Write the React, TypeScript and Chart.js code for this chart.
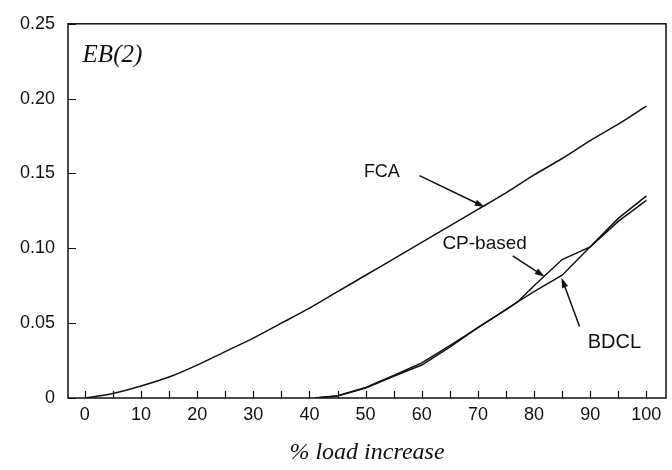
import { useEffect, useRef } from "react";
import { Chart, registerables } from "chart.js";

Chart.register(...registerables);

// ---- data ----
const fcaLoad = [0, 5, 10, 15, 20, 25, 30, 35, 40, 45, 50, 55, 60, 65, 70, 75, 80, 85, 90, 95, 100];
const fcaValues = [0, 0.003, 0.008, 0.014, 0.022, 0.031, 0.04, 0.05, 0.06, 0.071, 0.082, 0.093, 0.104, 0.115, 0.126, 0.137, 0.149, 0.16, 0.172, 0.183, 0.195];

const lowerLoad = [41, 45, 50, 55, 60, 65, 70, 75, 77, 80, 85, 90, 95, 100];
const cpBasedValues = [0, 0.0015, 0.007, 0.015, 0.0235, 0.035, 0.047, 0.059, 0.064, 0.075, 0.0925, 0.101, 0.12, 0.135];
const bdclValues = [0, 0.0013, 0.0066, 0.0145, 0.022, 0.034, 0.047, 0.059, 0.064, 0.071, 0.082, 0.101, 0.118, 0.132];

const xTickValues = [0, 10, 20, 30, 40, 50, 60, 70, 80, 90, 100];
const xMinorTickValues = [0, 5, 10, 15, 20, 25, 30, 35, 40, 45, 50, 55, 60, 65, 70, 75, 80, 85, 90, 95, 100];
const yTickValues = [0, 0.05, 0.1, 0.15, 0.2, 0.25];

const xTitle = "% load increase";
const panelLabel = "EB(2)";
const curveLabels = ["FCA", "CP-based", "BDCL"];

// annotation anchors in data coordinates: label centre, arrow start, arrow tip
const labelPos = [
  [52.9, 0.1508],
  [71.2, 0.1033],
  [94.3, 0.037],
];
const arrowFrom = [
  [59.6, 0.1486],
  [76.2, 0.095],
  [88.1, 0.0478],
];
const arrowTo = [
  [71.2, 0.1276],
  [81.9, 0.081],
  [84.9, 0.0804],
];
const labelSizes = [18, 19, 20];

const INK = "#111";

const overlayPlugin = {
  id: "overlay",
  afterDatasetsDraw(chart: any) {
    const { ctx, chartArea, scales } = chart;
    const xs = scales.x;
    const ys = scales.y;
    ctx.save();
    ctx.strokeStyle = INK;
    ctx.fillStyle = INK;
    ctx.lineWidth = 1.5;
    // frame
    ctx.strokeRect(chartArea.left, chartArea.top, chartArea.right - chartArea.left, chartArea.bottom - chartArea.top);
    // ticks (inward)
    ctx.lineWidth = 1.2;
    ctx.beginPath();
    xMinorTickValues.forEach((v) => {
      const px = Math.round(xs.getPixelForValue(v)) + 0.5;
      ctx.moveTo(px, chartArea.bottom);
      ctx.lineTo(px, chartArea.bottom - 7);
    });
    yTickValues.forEach((v) => {
      const py = Math.round(ys.getPixelForValue(v)) + 0.5;
      ctx.moveTo(chartArea.left, py);
      ctx.lineTo(chartArea.left + 8, py);
    });
    ctx.stroke();

    // panel label
    ctx.font = "italic 25px 'Liberation Serif', serif";
    ctx.textAlign = "left";
    ctx.textBaseline = "middle";
    ctx.fillText(panelLabel, xs.getPixelForValue(-0.4), ys.getPixelForValue(0.229));

    // annotations
    curveLabels.forEach((t, i) => {
      ctx.font = `${labelSizes[i]}px 'Liberation Sans', Arial, sans-serif`;
      ctx.textAlign = "center";
      ctx.textBaseline = "middle";
      ctx.fillText(t, xs.getPixelForValue(labelPos[i][0]), ys.getPixelForValue(labelPos[i][1]));
      const x0 = xs.getPixelForValue(arrowFrom[i][0]);
      const y0 = ys.getPixelForValue(arrowFrom[i][1]);
      const x1 = xs.getPixelForValue(arrowTo[i][0]);
      const y1 = ys.getPixelForValue(arrowTo[i][1]);
      const ang = Math.atan2(y1 - y0, x1 - x0);
      const hl = 10;
      const hw = 3.2;
      ctx.lineWidth = 1.5;
      ctx.beginPath();
      ctx.moveTo(x0, y0);
      ctx.lineTo(x1 - Math.cos(ang) * hl * 0.8, y1 - Math.sin(ang) * hl * 0.8);
      ctx.stroke();
      ctx.beginPath();
      ctx.moveTo(x1, y1);
      ctx.lineTo(x1 - Math.cos(ang) * hl - Math.sin(ang) * hw, y1 - Math.sin(ang) * hl + Math.cos(ang) * hw);
      ctx.lineTo(x1 - Math.cos(ang) * hl + Math.sin(ang) * hw, y1 - Math.sin(ang) * hl - Math.cos(ang) * hw);
      ctx.closePath();
      ctx.fill();
    });
    ctx.restore();
  },
};

export default function App() {
  const canvasRef = useRef<HTMLCanvasElement | null>(null);

  useEffect(() => {
    const canvas = canvasRef.current;
    if (!canvas) return;
    const lineStyle = {
      borderColor: INK,
      borderWidth: 1.5,
      pointRadius: 0,
      fill: false,
    };
    const chart = new Chart(canvas, {
      type: "line",
      data: {
        datasets: [
          {
            label: curveLabels[0],
            data: fcaLoad.map((x, i) => ({ x, y: fcaValues[i] })),
            tension: 0.3,
            ...lineStyle,
          },
          {
            label: curveLabels[1],
            data: lowerLoad.map((x, i) => ({ x, y: cpBasedValues[i] })),
            tension: 0,
            ...lineStyle,
          },
          {
            label: curveLabels[2],
            data: lowerLoad.map((x, i) => ({ x, y: bdclValues[i] })),
            tension: 0,
            ...lineStyle,
          },
        ],
      },
      options: {
        animation: false,
        responsive: true,
        maintainAspectRatio: false,
        layout: { padding: { top: 6, right: 6, left: 0, bottom: 0 } },
        plugins: {
          legend: { display: false },
          tooltip: { enabled: false },
        },
        scales: {
          x: {
            type: "linear",
            min: -3,
            max: 103.5,
            grid: { display: false, drawTicks: false },
            border: { display: false },
            afterBuildTicks: (s: any) => {
              s.ticks = xTickValues.map((v) => ({ value: v }));
            },
            afterFit: (s: any) => {
              s.height = 72;
            },
            ticks: {
              color: INK,
              padding: 6,
              maxRotation: 0,
              autoSkip: false,
              font: { family: "'Liberation Sans', Arial, sans-serif", size: 18 },
              callback: (v: any) => String(v),
            },
            title: {
              display: true,
              text: xTitle,
              color: INK,
              padding: { top: 0, bottom: 3 },
              font: { family: "'Liberation Serif', serif", size: 24, style: "italic" },
            },
          },
          y: {
            type: "linear",
            min: 0,
            max: 0.25,
            grid: { display: false, drawTicks: false },
            border: { display: false },
            afterBuildTicks: (s: any) => {
              s.ticks = yTickValues.map((v) => ({ value: v }));
            },
            afterFit: (s: any) => {
              s.width = 68;
            },
            ticks: {
              color: INK,
              padding: 13,
              autoSkip: false,
              font: { family: "'Liberation Sans', Arial, sans-serif", size: 18 },
              callback: (v: any) => (Number(v) === 0 ? "0" : Number(v).toFixed(2)),
            },
          },
        },
      },
      plugins: [overlayPlugin],
    });
    return () => chart.destroy();
  }, []);

  return (
    <div style={{ position: "absolute", left: 0, top: 0, width: 672, height: 470, background: "#fff" }}>
      <canvas ref={canvasRef} />
    </div>
  );
}
